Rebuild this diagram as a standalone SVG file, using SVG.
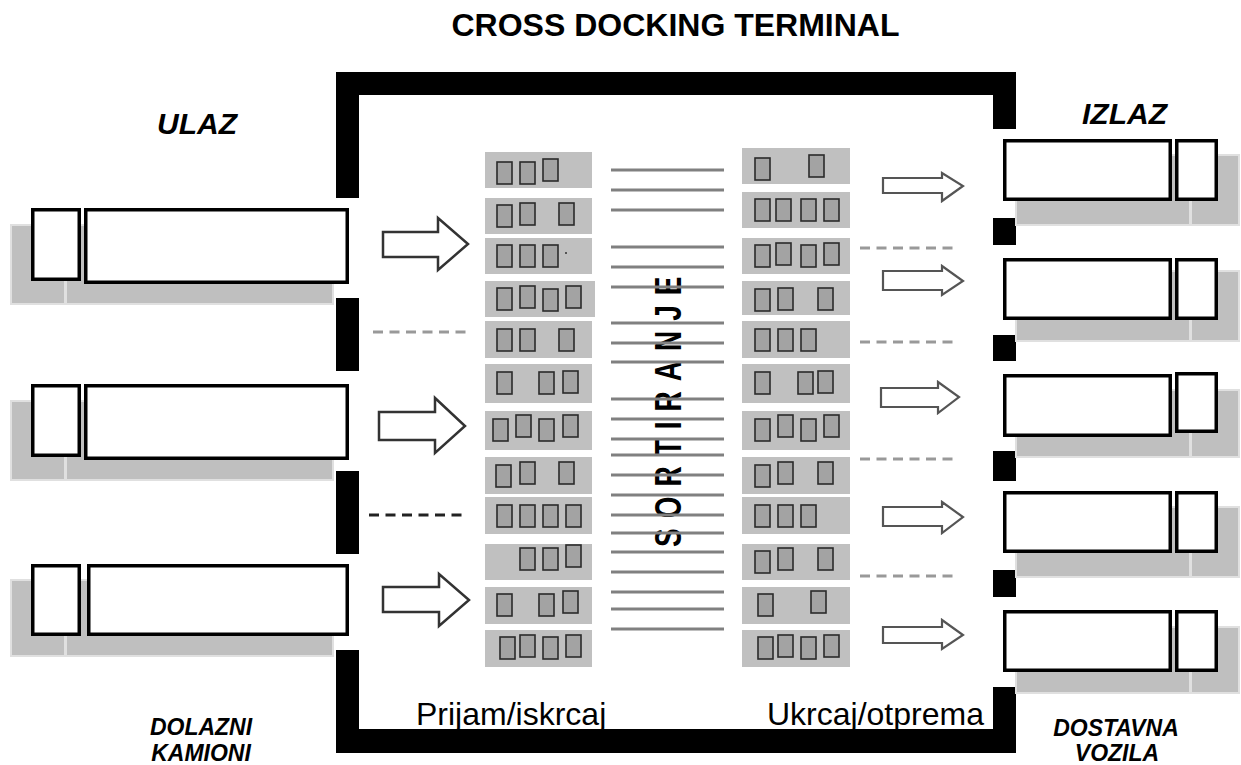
<svg xmlns="http://www.w3.org/2000/svg" xmlns:xlink="http://www.w3.org/1999/xlink" width="1241" height="765" viewBox="0 0 1241 765">
<style>
.wall{fill:#000}
.shadow{fill:#bfbfbf;stroke:#e0e0e0;stroke-width:2}
.div{stroke:#e0e0e0;stroke-width:3}
.truck{fill:#fff;stroke:#000;stroke-width:3.5}
.slot{fill:#c0c0c0}
.sline{stroke:#808080;stroke-width:3}
.arrL{fill:#fff;stroke:#333;stroke-width:2.5;stroke-linejoin:miter}
.arrR{fill:#fff;stroke:#555;stroke-width:2.2;stroke-linejoin:miter}
.dash{stroke:#999;stroke-width:3;stroke-dasharray:10 6.5;fill:none}
.dashD{stroke:#222;stroke-width:3;stroke-dasharray:10 6.5;fill:none}
.t{font-family:"Liberation Sans",Arial,sans-serif;fill:#000}
.bi{font-weight:bold;font-style:italic}
</style>
<defs>
<rect id="g" width="15" height="22" fill="#a3a3a3" stroke="#2a2a2a" stroke-width="1.6"/>
</defs>

<g id="title"><text class="t" x="675.5" y="36" font-size="32" font-weight="bold" text-anchor="middle">CROSS DOCKING TERMINAL</text></g>

<g id="terminal">
<rect class="wall" x="336" y="72" width="680" height="23"/>
<rect class="wall" x="336" y="729" width="680" height="24"/>
<rect class="wall" x="336" y="72" width="23" height="126"/>
<rect class="wall" x="336" y="298" width="23" height="73"/>
<rect class="wall" x="336" y="471" width="23" height="83"/>
<rect class="wall" x="336" y="650" width="23" height="103"/>
<rect class="wall" x="993" y="72" width="23" height="57"/>
<rect class="wall" x="993" y="218" width="23" height="27"/>
<rect class="wall" x="993" y="335" width="23" height="26"/>
<rect class="wall" x="993" y="451" width="23" height="30"/>
<rect class="wall" x="993" y="570" width="23" height="27"/>
<rect class="wall" x="993" y="687" width="23" height="66"/>
</g>

<g id="labels">
<text class="t bi" x="157" y="134" font-size="30">ULAZ</text>
<text class="t bi" x="1082" y="124" font-size="30">IZLAZ</text>
<text class="t bi" x="201" y="735" font-size="23" text-anchor="middle">DOLAZNI</text>
<text class="t bi" x="201" y="761" font-size="23" text-anchor="middle">KAMIONI</text>
<text class="t bi" x="1116" y="736" font-size="23" text-anchor="middle">DOSTAVNA</text>
<text class="t bi" x="1117" y="761" font-size="23" text-anchor="middle">VOZILA</text>
<text class="t" x="416" y="725" font-size="32">Prijam/iskrcaj</text>
<text class="t" x="767" y="725" font-size="32">Ukrcaj/otprema</text>
</g>

<g id="truck-in-1">
<rect class="shadow" x="11" y="225" width="322" height="79"/>
<line class="div" x1="65.5" y1="225" x2="65.5" y2="304"/>
<rect class="truck" x="32.75" y="209.75" width="46.5" height="69.5"/>
<rect class="truck" x="85.75" y="209.75" width="261.5" height="72.5"/>
</g>
<g id="truck-in-2">
<rect class="shadow" x="11" y="401" width="322" height="79"/>
<line class="div" x1="65.5" y1="401" x2="65.5" y2="480"/>
<rect class="truck" x="32.75" y="385.75" width="46.5" height="69.5"/>
<rect class="truck" x="85.75" y="385.75" width="261.5" height="72.5"/>
</g>
<g id="truck-in-3">
<rect class="shadow" x="11" y="580" width="322" height="76"/>
<line class="div" x1="65.5" y1="580" x2="65.5" y2="656"/>
<rect class="truck" x="32.75" y="565.75" width="46.5" height="68.5"/>
<rect class="truck" x="88.75" y="565.75" width="258.5" height="68.5"/>
</g>

<g id="truck-out-1">
<rect class="shadow" x="1016" y="155" width="223" height="70"/>
<line class="div" x1="1190.5" y1="155" x2="1190.5" y2="225"/>
<rect class="truck" x="1004.75" y="140.75" width="165.5" height="58.5"/>
<rect class="truck" x="1176.75" y="140.75" width="39.5" height="58.5"/>
</g>
<g id="truck-out-2">
<rect class="shadow" x="1016" y="271" width="223" height="70"/>
<line class="div" x1="1190.5" y1="271" x2="1190.5" y2="341"/>
<rect class="truck" x="1004.75" y="259.75" width="165.5" height="58.5"/>
<rect class="truck" x="1176.75" y="259.75" width="39.5" height="58.5"/>
</g>
<g id="truck-out-3">
<rect class="shadow" x="1016" y="390" width="223" height="67"/>
<line class="div" x1="1190.5" y1="390" x2="1190.5" y2="457"/>
<rect class="truck" x="1004.75" y="375.75" width="165.5" height="59.5"/>
<rect class="truck" x="1176.75" y="373.75" width="39.5" height="57.5"/>
</g>
<g id="truck-out-4">
<rect class="shadow" x="1016" y="507" width="223" height="70"/>
<line class="div" x1="1190.5" y1="507" x2="1190.5" y2="577"/>
<rect class="truck" x="1004.75" y="492.75" width="165.5" height="58.5"/>
<rect class="truck" x="1176.75" y="492.75" width="39.5" height="58.5"/>
</g>
<g id="truck-out-5">
<rect class="shadow" x="1016" y="627" width="223" height="66"/>
<line class="div" x1="1190.5" y1="627" x2="1190.5" y2="693"/>
<rect class="truck" x="1004.75" y="611.75" width="165.5" height="58.5"/>
<rect class="truck" x="1176.75" y="611.75" width="39.5" height="58.5"/>
</g>

<g id="receiving">
<rect class="slot" x="485" y="152" width="107" height="36"/>
<use xlink:href="#g" x="497" y="162"/><use xlink:href="#g" x="520" y="162"/><use xlink:href="#g" x="543" y="159"/>
<rect class="slot" x="485" y="198" width="107" height="36"/>
<use xlink:href="#g" x="497" y="205"/><use xlink:href="#g" x="520" y="203"/><use xlink:href="#g" x="559" y="203"/>
<rect class="slot" x="485" y="238" width="107" height="36"/>
<use xlink:href="#g" x="497" y="245"/><use xlink:href="#g" x="520" y="245"/><use xlink:href="#g" x="543" y="245"/>
<rect x="565" y="252" width="2" height="2" fill="#555"/>
<rect class="slot" x="485" y="281" width="110" height="36"/>
<use xlink:href="#g" x="497" y="288"/><use xlink:href="#g" x="520" y="286"/><use xlink:href="#g" x="543" y="289"/><use xlink:href="#g" x="566" y="286"/>
<rect class="slot" x="485" y="321" width="107" height="37"/>
<use xlink:href="#g" x="497" y="329"/><use xlink:href="#g" x="520" y="329"/><use xlink:href="#g" x="559" y="329"/>
<rect class="slot" x="485" y="364" width="107" height="39"/>
<use xlink:href="#g" x="497" y="372"/><use xlink:href="#g" x="539" y="372"/><use xlink:href="#g" x="563" y="371"/>
<rect class="slot" x="485" y="411" width="107" height="39"/>
<use xlink:href="#g" x="493" y="419"/><use xlink:href="#g" x="516" y="415"/><use xlink:href="#g" x="539" y="419"/><use xlink:href="#g" x="563" y="415"/>
<rect class="slot" x="485" y="457" width="107" height="37"/>
<use xlink:href="#g" x="496" y="465"/><use xlink:href="#g" x="520" y="462"/><use xlink:href="#g" x="559" y="462"/>
<rect class="slot" x="485" y="497" width="107" height="37"/>
<use xlink:href="#g" x="497" y="505"/><use xlink:href="#g" x="520" y="505"/><use xlink:href="#g" x="543" y="505"/><use xlink:href="#g" x="566" y="505"/>
<rect class="slot" x="485" y="544" width="107" height="36"/>
<use xlink:href="#g" x="520" y="548"/><use xlink:href="#g" x="543" y="548"/><use xlink:href="#g" x="566" y="545"/>
<rect class="slot" x="485" y="587" width="107" height="37"/>
<use xlink:href="#g" x="497" y="594"/><use xlink:href="#g" x="539" y="594"/><use xlink:href="#g" x="563" y="591"/>
<rect class="slot" x="485" y="630" width="107" height="37"/>
<use xlink:href="#g" x="500" y="637"/><use xlink:href="#g" x="520" y="635"/><use xlink:href="#g" x="543" y="637"/><use xlink:href="#g" x="566" y="635"/>
</g>

<g id="shipping">
<rect class="slot" x="742" y="148" width="108" height="36"/>
<use xlink:href="#g" x="755" y="158"/><use xlink:href="#g" x="809" y="155"/>
<rect class="slot" x="742" y="192" width="108" height="36"/>
<use xlink:href="#g" x="755" y="199"/><use xlink:href="#g" x="776" y="199"/><use xlink:href="#g" x="801" y="199"/><use xlink:href="#g" x="824" y="199"/>
<rect class="slot" x="742" y="238" width="108" height="36"/>
<use xlink:href="#g" x="755" y="245"/><use xlink:href="#g" x="776" y="243"/><use xlink:href="#g" x="801" y="245"/><use xlink:href="#g" x="824" y="243"/>
<rect class="slot" x="742" y="281" width="108" height="34"/>
<use xlink:href="#g" x="755" y="289"/><use xlink:href="#g" x="778" y="288"/><use xlink:href="#g" x="818" y="288"/>
<rect class="slot" x="742" y="321" width="108" height="37"/>
<use xlink:href="#g" x="755" y="329"/><use xlink:href="#g" x="778" y="329"/><use xlink:href="#g" x="801" y="329"/>
<rect class="slot" x="742" y="364" width="108" height="39"/>
<use xlink:href="#g" x="755" y="372"/><use xlink:href="#g" x="798" y="372"/><use xlink:href="#g" x="818" y="371"/>
<rect class="slot" x="742" y="411" width="108" height="39"/>
<use xlink:href="#g" x="755" y="419"/><use xlink:href="#g" x="778" y="415"/><use xlink:href="#g" x="801" y="419"/><use xlink:href="#g" x="824" y="415"/>
<rect class="slot" x="742" y="457" width="108" height="37"/>
<use xlink:href="#g" x="755" y="465"/><use xlink:href="#g" x="778" y="462"/><use xlink:href="#g" x="818" y="462"/>
<rect class="slot" x="742" y="497" width="108" height="37"/>
<use xlink:href="#g" x="755" y="505"/><use xlink:href="#g" x="778" y="505"/><use xlink:href="#g" x="801" y="505"/>
<rect class="slot" x="742" y="544" width="108" height="36"/>
<use xlink:href="#g" x="755" y="551"/><use xlink:href="#g" x="778" y="548"/><use xlink:href="#g" x="818" y="548"/>
<rect class="slot" x="742" y="587" width="108" height="37"/>
<use xlink:href="#g" x="758" y="594"/><use xlink:href="#g" x="811" y="591"/>
<rect class="slot" x="742" y="630" width="108" height="37"/>
<use xlink:href="#g" x="758" y="637"/><use xlink:href="#g" x="778" y="635"/><use xlink:href="#g" x="801" y="637"/><use xlink:href="#g" x="824" y="635"/>
</g>

<g id="sorting">
<text class="t" font-size="28" font-weight="bold" letter-spacing="10" transform="translate(681,547) rotate(-90) scale(1,1.3)">SORTIRANJE</text>
</g>

<g id="connectors">
<g id="sort-lines">
<line class="sline" x1="611" y1="170" x2="724" y2="170"/>
<line class="sline" x1="611" y1="190" x2="724" y2="190"/>
<line class="sline" x1="611" y1="210" x2="724" y2="210"/>
<line class="sline" x1="611" y1="247" x2="724" y2="247"/>
<line class="sline" x1="611" y1="267" x2="724" y2="267"/>
<line class="sline" x1="611" y1="287" x2="724" y2="287"/>
<line class="sline" x1="611" y1="323" x2="724" y2="323"/>
<line class="sline" x1="611" y1="343" x2="724" y2="343"/>
<line class="sline" x1="611" y1="362" x2="724" y2="362"/>
<line class="sline" x1="611" y1="399" x2="724" y2="399"/>
<line class="sline" x1="611" y1="419" x2="724" y2="419"/>
<line class="sline" x1="611" y1="439" x2="724" y2="439"/>
<line class="sline" x1="611" y1="455" x2="724" y2="455"/>
<line class="sline" x1="611" y1="475" x2="724" y2="475"/>
<line class="sline" x1="611" y1="495" x2="724" y2="495"/>
<line class="sline" x1="611" y1="515" x2="724" y2="515"/>
<line class="sline" x1="611" y1="533" x2="724" y2="533"/>
<line class="sline" x1="611" y1="552" x2="724" y2="552"/>
<line class="sline" x1="611" y1="572" x2="724" y2="572"/>
<line class="sline" x1="611" y1="592" x2="724" y2="592"/>
<line class="sline" x1="611" y1="609" x2="724" y2="609"/>
<line class="sline" x1="611" y1="629" x2="724" y2="629"/>
</g>
<polygon class="arrL" points="383,232 438,232 438,218 468,244 438,270 438,257 383,257"/>
<polygon class="arrL" points="379,412 435,412 435,398 465,426 435,453 435,440 379,440"/>
<polygon class="arrL" points="383,587 439,587 439,574 469,600 439,626 439,612 383,612"/>
<polygon class="arrR" points="883,178 942,178 942,173 963,186 942,201 942,193 883,193"/>
<polygon class="arrR" points="883,271 942,271 942,266 963,281 942,295 942,290 883,290"/>
<polygon class="arrR" points="881,388 938,388 938,382 959,397 938,413 938,407 881,407"/>
<polygon class="arrR" points="883,507 942,507 942,502 963,517 942,533 942,526 883,526"/>
<polygon class="arrR" points="883,627 942,627 942,620 963,635 942,649 942,643 883,643"/>
<line class="dash" x1="373" y1="332" x2="468" y2="332"/>
<line class="dashD" x1="369" y1="515" x2="462" y2="515"/>
<line class="dash" x1="860" y1="248" x2="956" y2="248"/>
<line class="dash" x1="860" y1="342" x2="956" y2="342"/>
<line class="dash" x1="860" y1="459" x2="956" y2="459"/>
<line class="dash" x1="860" y1="576" x2="956" y2="576"/>
</g>
</svg>
